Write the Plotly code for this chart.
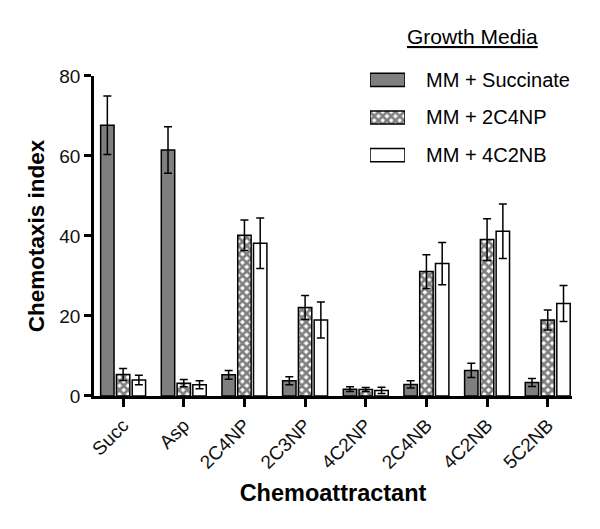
import plotly.graph_objects as go

categories = ["Succ", "Asp", "2C4NP", "2C3NP", "4C2NP", "2C4NB", "4C2NB", "5C2NB"]
series_names = ["MM + Succinate", "MM + 2C4NP", "MM + 4C2NB"]
succ = [67.7, 61.5, 5.3, 3.8, 1.7, 2.9, 6.4, 3.4]
succ_err = [7.3, 5.8, 1.1, 1.0, 0.6, 0.9, 1.8, 1.0]
c4np = [5.4, 3.2, 40.2, 22.1, 1.6, 31.1, 39.1, 19.0]
c4np_err = [1.5, 0.9, 3.8, 3.0, 0.5, 4.2, 5.2, 2.5]
nb = [4.0, 2.8, 38.2, 19.0, 1.4, 33.1, 41.2, 23.1]
nb_err = [1.2, 1.0, 6.3, 4.5, 0.8, 5.3, 6.8, 4.5]
y_ticks = [0, 20, 40, 60, 80]

FONT = "Liberation Sans, Arial, sans-serif"
line = dict(color="black", width=1.5)
err = dict(type="data", visible=True, color="black", thickness=1.5, width=4)

styles = [
    dict(color="#7f7f7f", line=line),
    dict(color="white", line=line,
         pattern=dict(shape="x", fgcolor="black", bgcolor="white", size=6, solidity=0.7)),
    dict(color="white", line=line),
]

fig = go.Figure()
for name, vals, errs, st in zip(series_names, [succ, c4np, nb], [succ_err, c4np_err, nb_err], styles):
    fig.add_trace(go.Bar(x=categories, y=vals, name=name, marker=st,
                         error_y=dict(array=errs, **err), showlegend=False))

# custom legend swatches
for i, (name, st) in enumerate(zip(series_names, styles)):
    fig.add_trace(go.Bar(x=[1], y=[i], base=0, orientation="h", width=0.35,
                         marker=st, xaxis="x2", yaxis="y2", showlegend=False,
                         hoverinfo="skip"))
    fig.add_annotation(text=name, x=0.690, xref="paper", y=i, yref="y2",
                       xanchor="left", yanchor="middle", showarrow=False,
                       font=dict(family=FONT, size=20, color="black"))

fig.add_annotation(text="<u>Growth Media</u>", x=0.791, xref="paper", y=0.957, yref="paper",
                   xanchor="center", yanchor="middle", showarrow=False,
                   font=dict(family=FONT, size=21, color="black"))

fig.update_layout(
    width=592, height=521,
    margin=dict(l=86, r=28, t=12, b=133, autoexpand=False),
    paper_bgcolor="white", plot_bgcolor="white",
    barmode="group", bargap=0.22, bargroupgap=0.15,
    font=dict(family=FONT, color="black"),
    xaxis=dict(range=[-0.48, 7.4], showline=True, linecolor="black", linewidth=2.5,
               ticks="outside", ticklen=8, tickwidth=2.5, tickcolor="black",
               tickangle=-45, tickfont=dict(size=19, color="#111"),
               showgrid=False, zeroline=False,
               title=dict(text="<b>Chemoattractant</b>", font=dict(size=23.5), standoff=13)),
    yaxis=dict(range=[0, 80], domain=[0, 0.8511], tickvals=y_ticks,
               showline=True, linecolor="black", linewidth=2.5,
               ticks="outside", ticklen=7, tickwidth=2.5, tickcolor="black",
               tickfont=dict(size=19, color="#111"), showgrid=False, zeroline=False,
               title=dict(text="<b>Chemotaxis index</b>", font=dict(size=22.5), standoff=9)),
    xaxis2=dict(domain=[0.5774, 0.6506], range=[0, 1], anchor="y2", visible=False, fixedrange=True),
    yaxis2=dict(domain=[0.5904, 0.8910], range=[2.5, -0.5], anchor="x2", visible=False, fixedrange=True),
)

fig.write_html("out.html")
